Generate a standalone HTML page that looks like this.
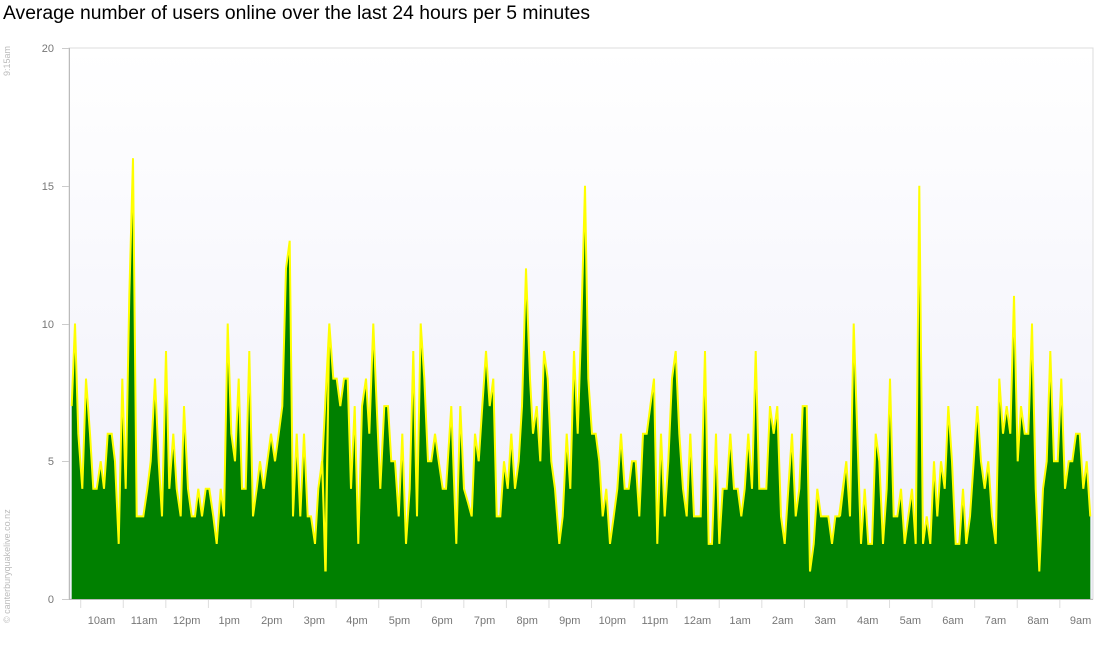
<!DOCTYPE html>
<html><head><meta charset="utf-8"><style>
body{margin:0;background:#fff;width:1100px;height:640px;overflow:hidden;font-family:"Liberation Sans",sans-serif}
</style></head><body>
<svg id="s" width="1100" height="640" xmlns="http://www.w3.org/2000/svg" font-family="Liberation Sans, sans-serif">
<defs><linearGradient id="bg" x1="0" y1="0" x2="0" y2="1"><stop offset="0" stop-color="#ffffff"/><stop offset="1" stop-color="#efeffa"/></linearGradient></defs>
<text x="3" y="19" font-size="19" fill="#000" textLength="587" lengthAdjust="spacingAndGlyphs">Average number of users online over the last 24 hours per 5 minutes</text>
<rect x="69" y="48" width="1024" height="551" fill="url(#bg)" stroke="#dcdcdc" stroke-width="1"/>
<g id="plot"></g>
<line x1="69.5" y1="48" x2="69.5" y2="600" stroke="#bbb"/>
<line x1="69" y1="599.5" x2="1093" y2="599.5" stroke="#bbb"/>
<g font-size="11" fill="#777" text-anchor="end">
<text x="54" y="603">0</text><text x="54" y="465">5</text><text x="54" y="328">10</text><text x="54" y="190">15</text><text x="54" y="52">20</text>
</g>
<g stroke="#ccc"><line x1="62" y1="599.5" x2="69" y2="599.5"/><line x1="62" y1="461.5" x2="69" y2="461.5"/><line x1="62" y1="324.5" x2="69" y2="324.5"/><line x1="62" y1="186.5" x2="69" y2="186.5"/><line x1="62" y1="48.5" x2="69" y2="48.5"/></g>
<g id="xt" font-size="11" fill="#777" text-anchor="middle"></g>
<text transform="translate(10,623) rotate(-90)" font-size="9" fill="#bbb">© canterburyquakelive.co.nz</text>
<text transform="translate(10,76) rotate(-90)" font-size="9" fill="#bbb">9:15am</text>
</svg>
<script>
var Z=[[60,[35,7,45,10,55,6,67,4,78,8,90,6,100,4,110,4,122,5,132,4,143,6,155,6,165,5,176,2,187,8,197,4,208,11,219,16,230,3,250,3,262,4,272,5,285,8,296,5,306,3,318,9,328,4,340,6,350,4,362,3,372,7,384,4,395,3,405,3,415,4,426,3,437,4,448,4,460,3,470,2,482,4,492,3,503,10,514,6,525,5,536,8,546,4,557,4,568,9,579,3,590,4,600,5,611,4,622,5,633,6,645,5,656,6,667,7,678,12,689,13,699,3,710,6,721,3,732,6,743,3,753,3,765,2,775,4,786,5,797,1,808,10]],
[320,[7,5,16,1,28,10,40,8,50,8,61,7,72,8,83,8,93,4,104,7,115,2,126,7,138,8,148,6,160,10,170,7,181,4,193,7,204,7,214,5,225,5,236,3,247,6,258,2,269,4,280,9,291,3,302,10,313,8,324,5,334,5,345,6,356,5,368,4,378,4,394,7,409,2,421,7,432,4,444,3.5,455,3,465,6,476,5,487,7,498,9,509,7,520,8,530,3,541,3,552,5,563,4,574,6,585,4,596,5,606,7,618,12,630,8,639,6,650,7,661,5,672,9,683,8,694,5,705,4,718,2,728,3,740,6,751,4,762,9,773,6,784,10,795,15]],
[580,[25,8,36,6,47,6,58,5,68,3,79,4,90,2,101,3,112,4,123,6,134,4,146,4,156,5,167,5,178,3,189,6,200,6,211,7,222,8,232,2,243,6,254,3,265,5,276,8,287,9,298,6,309,4,320,3,331,6,342,3,352,3,362,3,375,9,386,2,396,2,408,6,418,2,428,4,440,4,451,6,462,4,473,4,484,3,494,4,505,6,516,4,527,9,538,4,549,4,559,4,570,7,581,6,592,7,603,3,614,2,625,4,636,6,647,3,658,4,668,7,680,7,690,1,701,2,712,4,723,3,734,3,745,3,756,2,766,3,777,3,788,4,799,5]],
[840,[0,3,8,4,19,5,30,3,41,10,52,6,63,2,74,4,85,2,96,2,107,6,118,5,129,2,140,4,150,8,161,3,172,3,183,4,194,2,205,3,216,4,227,2,238,15,249,2,260,3,271,2,282,5,292,3,303,5,314,4,325,7,336,5,347,2,358,2,369,4,379,2,390,3,401,5,412,7,423,5,434,4,445,5,456,3,467,2,478,8,489,6,500,7,511,6,522,11,533,5,543,7,554,6,565,6,576,10,587,4,598,1,609,4,620,5,631,9,642,5,653,5,664,8,675,4,686,5,697,5,708,6,719,6,730,4,740,5,751,3]]];
var pts=[];
Z.forEach(function(z){var o=z[0],a=z[1];for(var i=0;i<a.length;i+=2){pts.push([o+a[i]/3,599-27.55*a[i+1]]);}});
var line=pts.map(function(p){return p[0].toFixed(1)+","+p[1].toFixed(1)}).join(" ");
var poly=pts[0][0].toFixed(1)+",599 "+line+" "+pts[pts.length-1][0].toFixed(1)+",599";
var ns="http://www.w3.org/2000/svg",g=document.getElementById("plot");
var f=document.createElementNS(ns,"polygon");f.setAttribute("points",poly);f.setAttribute("fill","#008000");g.appendChild(f);
var l=document.createElementNS(ns,"polyline");l.setAttribute("points",line);l.setAttribute("fill","none");l.setAttribute("stroke","#ffff00");l.setAttribute("stroke-width","2");l.setAttribute("stroke-linejoin","miter");g.appendChild(l);
var labs=["10am","11am","12pm","1pm","2pm","3pm","4pm","5pm","6pm","7pm","8pm","9pm","10pm","11pm","12am","1am","2am","3am","4am","5am","6am","7am","8am","9am"];
var xt=document.getElementById("xt");
labs.forEach(function(t,i){var x=101.5+i*42.57;
var tl=document.createElementNS(ns,"line");tl.setAttribute("x1",x+0.5-21.3);tl.setAttribute("x2",x+0.5-21.3);tl.setAttribute("y1",600);tl.setAttribute("y2",608);tl.setAttribute("stroke","#ddd");xt.appendChild(tl);
var e=document.createElementNS(ns,"text");e.setAttribute("x",x);e.setAttribute("y",624);e.textContent=t;xt.appendChild(e);});
</script>
</body></html>
